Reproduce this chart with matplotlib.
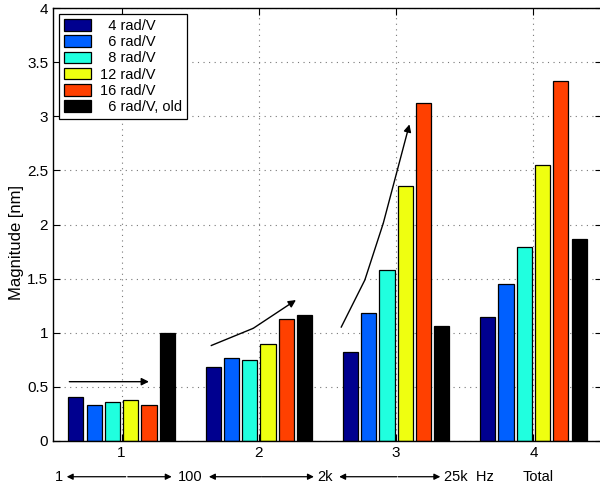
import matplotlib
matplotlib.use('Agg')
import matplotlib.pyplot as plt
from matplotlib.ticker import FuncFormatter
import numpy as np

plt.rcParams['font.family'] = ['Liberation Sans', 'DejaVu Sans']

# ---- data ----
groups = [1, 2, 3, 4]
series_labels = ['  4 rad/V', '  6 rad/V', '  8 rad/V', '12 rad/V', '16 rad/V', '  6 rad/V, old']
series_colors = ['#00008F', '#0060FF', '#20FFDF', '#EFFF10', '#FF4000', '#000000']
mag_4 = [0.41, 0.68, 0.82, 1.15]
mag_6 = [0.33, 0.77, 1.18, 1.45]
mag_8 = [0.36, 0.75, 1.58, 1.79]
mag_12 = [0.38, 0.90, 2.36, 2.55]
mag_16 = [0.33, 1.13, 3.12, 3.33]
mag_6_old = [1.00, 1.16, 1.06, 1.87]
series_values = [mag_4, mag_6, mag_8, mag_12, mag_16, mag_6_old]

# trend arrows (polylines, last segment carries the head)
trend_1 = [(0.619, 0.548), (1.199, 0.548)]
trend_2 = [(1.649, 0.880), (1.959, 1.041), (2.270, 1.302)]
trend_3 = [(2.598, 1.047), (2.772, 1.487), (2.906, 2.010), (3.097, 2.925)]

# frequency band annotation below the axis
band_labels = ['1', '100', '2k', '25k  Hz', 'Total']
band_label_x = [0.540, 1.498, 2.485, 3.348, 4.032]
band_label_ha = ['center', 'center', 'center', 'left', 'center']
band_arrows = [(0.600, 1.030, 1.045, 1.365), (1.636, 2.015, 2.020, 2.401), (2.585, 3.005, 3.015, 3.322)]
band_y = -0.33

FS = 10.5

fig = plt.figure(figsize=(6.0, 4.91), dpi=100)
ax = fig.add_axes([53 / 600, 50 / 491, 549 / 600, 433 / 491])

n = len(series_values)
pitch = 0.8 / n
bar_w = 0.111
x = np.array(groups, dtype=float)
for j, (vals, col, lab) in enumerate(zip(series_values, series_colors, series_labels)):
    ax.bar(x + (j - (n - 1) / 2) * pitch, vals, width=bar_w, color=col,
           edgecolor='black', linewidth=0.9, label=lab, zorder=2)

ax.set_xlim(0.5, 4.5)
ax.set_ylim(0, 4)
ax.set_xticks(groups)
ax.set_yticks(np.arange(0, 4.01, 0.5))
ax.yaxis.set_major_formatter(FuncFormatter(lambda v, p: f'{v:g}'))
ax.tick_params(direction='in', length=5, width=0.8, top=True, right=True,
               labelsize=11, pad=3.5, colors='black')
ax.grid(True, color='#777777', linestyle=(0, (1, 4)), linewidth=0.8, zorder=0)
ax.set_axisbelow(True)
for s in ax.spines.values():
    s.set_linewidth(1.0)
    s.set_zorder(5)

ax.set_ylabel('Magnitude [nm]', fontsize=12)
ax.yaxis.set_label_coords((24 - 53) / 549, (441 - 243) / 433)

# trend arrows
def draw_trend(pts):
    xs = [p[0] for p in pts]
    ys = [p[1] for p in pts]
    ax.plot(xs[:-1], ys[:-1], color='black', lw=1.0, zorder=4, solid_capstyle='butt')
    ax.annotate('', xy=pts[-1], xytext=pts[-2],
                arrowprops=dict(arrowstyle='-|>', color='black', lw=1.0,
                                mutation_scale=11, shrinkA=0, shrinkB=0),
                zorder=4)

for t in (trend_1, trend_2, trend_3):
    draw_trend(t)

# band labels and arrows under the axis
for lab, bx, ha in zip(band_labels, band_label_x, band_label_ha):
    ax.text(bx, band_y, lab, ha=ha, va='center', fontsize=FS, clip_on=False)
for x0, m0, m1, x1 in band_arrows:
    for start, end in ((m0, x0), (m1, x1)):
        ax.annotate('', xy=(end, band_y), xytext=(start, band_y),
                    annotation_clip=False,
                    arrowprops=dict(arrowstyle='-|>', color='black', lw=0.9,
                                    mutation_scale=9, shrinkA=0, shrinkB=0))

leg = ax.legend(loc='upper left', bbox_to_anchor=(6 / 549, 1 - 6 / 433),
                borderaxespad=0, fontsize=FS, frameon=True, fancybox=False,
                edgecolor='black', framealpha=1, handlelength=1.85,
                handleheight=0.85, handletextpad=0.6, labelspacing=0.15,
                borderpad=0.35)
leg.get_frame().set_linewidth(0.9)
leg.set_zorder(6)

fig.savefig('out.png', dpi=100)
